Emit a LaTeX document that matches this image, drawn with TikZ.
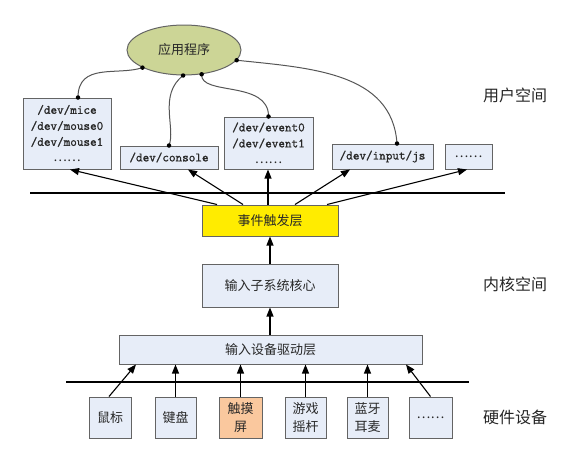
\documentclass[tikz,border=0pt]{standalone}
\usepackage{fontspec}
\newfontfamily\cjk{Noto Sans CJK SC}
\newfontfamily\monof[FakeBold=1.2]{Latin Modern Mono}
\usetikzlibrary{arrows.meta,shapes.geometric}
\definecolor{ellfill}{RGB}{204,213,150}
\definecolor{boxfill}{RGB}{231,237,248}
\definecolor{yellowfill}{RGB}{255,236,0}
\definecolor{orangefill}{RGB}{250,200,158}
\definecolor{bordergray}{RGB}{100,100,100}
\definecolor{txt}{RGB}{40,40,40}
\definecolor{curvegray}{RGB}{85,85,85}
\begin{document}
\begin{tikzpicture}[x=1pt,y=-1pt,
  box/.style={draw=bordergray,line width=1pt,fill=boxfill,rectangle,inner sep=0pt,text=txt,align=center},
  cn/.style={font={\cjk\fontsize{13}{18}\selectfont}},
  mono/.style={font={\monof\fontsize{12.8}{16}\selectfont}},
  side/.style={font={\cjk\fontsize{16}{18}\selectfont},text=black!85},
  arr/.style={-{Triangle[length=9pt,width=7pt]},line width=1.1pt,black},
  sep/.style={line width=1.2pt,black},
  link/.style={line width=1pt,curvegray},
  dot/.style={circle,fill=black,inner sep=0pt,minimum size=4.5pt}]
\useasboundingbox (0,0) rectangle (565,448);
% application
\node[ellipse,draw=bordergray,line width=1pt,fill=ellfill,minimum width=114pt,minimum height=50pt,inner sep=0pt,cn,text=txt] (app) at (184,50) {应用程序};
% user space device files
\node[box,mono,minimum width=88pt,minimum height=71pt] (mice) at (67,133.5) {/dev/mice\\/dev/mouse0\\/dev/mouse1\\{\cjk ……}};
\node[box,mono,minimum width=98pt,minimum height=23pt] (console) at (169,157.5) {/dev/console};
\node[box,mono,minimum width=89pt,minimum height=52pt] (event) at (268.5,143) {/dev/event0\\/dev/event1\\{\cjk ……}};
\node[box,mono,minimum width=101pt,minimum height=25pt] (js) at (382.5,156.5) {/dev/input/js};
\node[box,cn,minimum width=47pt,minimum height=25pt] (udots) at (468.5,156.5) {……};
% kernel
\node[box,cn,fill=yellowfill,minimum width=136pt,minimum height=31pt] (trig) at (270,220.5) {事件触发层};
\node[box,cn,minimum width=136pt,minimum height=43pt] (core) at (270,285.5) {输入子系统核心};
\node[box,cn,minimum width=303pt,minimum height=29pt] (drv) at (270.5,349.5) {输入设备驱动层};
% hardware
\node[box,cn,minimum width=42pt,minimum height=41pt] (mouse) at (110,417.5) {鼠标};
\node[box,cn,minimum width=41pt,minimum height=41pt] (kbd) at (175.5,417.5) {键盘};
\node[box,cn,fill=orangefill,minimum width=43pt,minimum height=41pt] (touch) at (240.5,417.5) {触摸\\屏};
\node[box,cn,minimum width=41pt,minimum height=41pt] (game) at (305.5,417.5) {游戏\\摇杆};
\node[box,cn,minimum width=41pt,minimum height=41pt] (bt) at (367.5,417.5) {蓝牙\\耳麦};
\node[box,cn,minimum width=43pt,minimum height=41pt] (hdots) at (430.5,417.5) {……};
% side labels
\node[side] (lu) at (515,95) {用户空间};
\node[side] (lk) at (515,284) {内核空间};
\node[side] (lh) at (515,417) {硬件设备};
% separator lines
\coordinate (s1a) at (30,193); \coordinate (s1b) at (505,193);
\coordinate (s2a) at (66,382); \coordinate (s2b) at (469,382);
\draw[sep] (s1a) -- (s1b);
\draw[sep] (s2a) -- (s2b);
% links from application
\draw[link] (app.203.7) .. controls (118,76) and (78,62) .. ([xshift=11pt]mice.north);
\draw[link] (app.268) .. controls (158,95) and (176,128) .. (console.north);
\draw[link] (app.306.5) .. controls (200,96) and (269,80) .. (event.north);
\draw[link] (app.349) .. controls (310,68) and (392,72) .. ([xshift=14.5pt]js.north);
\node[dot] at (app.203.7) {}; \node[dot] at (app.268) {};
\node[dot] at (app.306.5) {}; \node[dot] at (app.349) {};
\node[dot] at ([xshift=11pt]mice.north) {}; \node[dot] at (console.north) {};
\node[dot] at (event.north) {}; \node[dot] at ([xshift=14.5pt]js.north) {};
% trigger to device files
\draw[arr] ([xshift=-53pt]trig.north) -- ([xshift=3pt]mice.south);
\draw[arr] ([xshift=-27pt]trig.north) -- ([xshift=19pt]console.south);
\draw[arr] ([xshift=-2pt]trig.north) -- ([xshift=-0.5pt]event.south);
\draw[arr] ([xshift=25pt]trig.north) -- ([xshift=-32.5pt]js.south);
\draw[arr] ([xshift=57pt]trig.north) -- ([xshift=-1.5pt]udots.south);
% kernel chain
\draw[arr] (core.north) -- (trig.south);
\draw[arr] (drv.north -| core.south) -- (core.south);
% hardware to driver
\draw[arr] ([xshift=-1pt]mouse.north) -- ([xshift=-134.5pt]drv.south);
\draw[arr] (kbd.north) -- (kbd.north |- drv.south);
\draw[arr] (touch.north) -- (touch.north |- drv.south);
\draw[arr] (game.north) -- (game.north |- drv.south);
\draw[arr] (bt.north) -- (bt.north |- drv.south);
\draw[arr] (hdots.north) -- ([xshift=135.5pt]drv.south);
\end{tikzpicture}
\end{document}
